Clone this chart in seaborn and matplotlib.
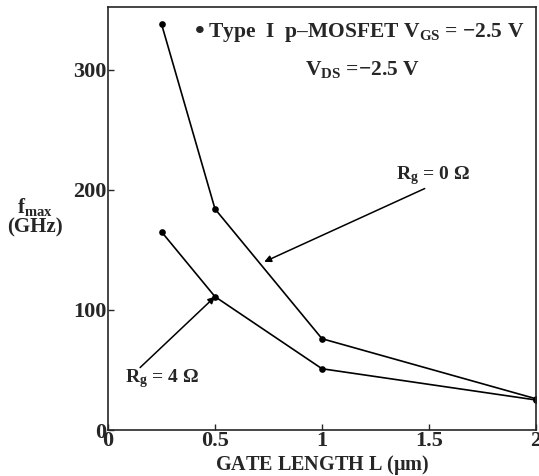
import matplotlib
matplotlib.use("Agg")
import matplotlib.pyplot as plt
import seaborn as sns
import pandas as pd

gate_length = [0.25, 0.5, 1.0, 2.0]
fmax_rg0 = [338, 184, 76, 26]
fmax_rg4 = [165, 111, 51, 25]
x_ticks = [0, 0.5, 1, 1.5, 2]
x_tick_labels = ["0", "0.5", "1", "1.5", "2"]
y_ticks = [0, 100, 200, 300]

sns.set_style("ticks")
plt.rcParams['font.family'] = ['Liberation Serif', 'DejaVu Serif']
plt.rcParams['font.weight'] = 'bold'
plt.rcParams['mathtext.fontset'] = 'custom'
plt.rcParams['mathtext.rm'] = 'Liberation Serif:bold'
plt.rcParams['mathtext.bf'] = 'Liberation Serif:bold'
plt.rcParams['mathtext.it'] = 'Liberation Serif:bold'

df = pd.DataFrame({
    "L": gate_length * 2,
    "fmax": fmax_rg0 + fmax_rg4,
    "series": ["Rg0"] * len(gate_length) + ["Rg4"] * len(gate_length),
})

fig = plt.figure(figsize=(5.39, 4.76), dpi=100)
ax = fig.add_axes([0.2004, 0.0966, 0.7940, 0.8884])
sns.lineplot(data=df, x="L", y="fmax", hue="series", palette=["black", "black"],
             marker="o", markersize=4.8, markeredgewidth=0, linewidth=1.2,
             legend=False, ax=ax)
ax.set_xlim(0, 2)
ax.set_ylim(0, 352)
ax.set_xticks(x_ticks)
ax.set_xticklabels(x_tick_labels)
ax.set_yticks(y_ticks)
ax.tick_params(direction="in", length=4, width=1, labelsize=16, pad=1)
for lab in ax.get_xticklabels() + ax.get_yticklabels():
    lab.set_fontweight("bold")
for s in ax.spines.values():
    s.set_linewidth(1.2)
    s.set_visible(True)
ax.set_xlabel(r"GATE LENGTH L ($\mu$m)", fontsize=14.5, fontweight="bold", labelpad=1)
ax.set_ylabel("")
fig.text(0.065, 0.565, r"f$_{\mathrm{max}}$", fontsize=15, ha="center", va="center", fontweight="bold")
fig.text(0.065, 0.522, "(GHz)", fontsize=15, ha="center", va="center", fontweight="bold")

ax.text(0.43, 331, "\u2022", fontsize=20, ha="center", va="center")
ax.text(0.465, 331, r"Type  I  p–MOSFET V$_{\mathrm{GS}}$ = −2.5 V", fontsize=15.5,
        ha="left", va="center", fontweight="bold")
ax.text(1.19, 300, r"V$_{\mathrm{DS}}$ =−2.5 V", fontsize=15.5, ha="center", va="center",
        fontweight="bold")

ax.annotate("", xy=(0.73, 140), xytext=(1.48, 201),
            arrowprops=dict(arrowstyle="-|>", color="black", lw=1.1,
                            mutation_scale=10, shrinkA=0, shrinkB=0))
ax.text(1.52, 212, r"R$_{\mathrm{g}}$ = 0 Ω", fontsize=14, ha="center", va="center",
        fontweight="bold")
ax.annotate("", xy=(0.5, 111), xytext=(0.15, 52),
            arrowprops=dict(arrowstyle="-|>", color="black", lw=1.1,
                            mutation_scale=10, shrinkA=0, shrinkB=0))
ax.text(0.25, 43, r"R$_{\mathrm{g}}$ = 4 Ω", fontsize=14, ha="center", va="center",
        fontweight="bold")

fig.savefig("out.png", dpi=100)
